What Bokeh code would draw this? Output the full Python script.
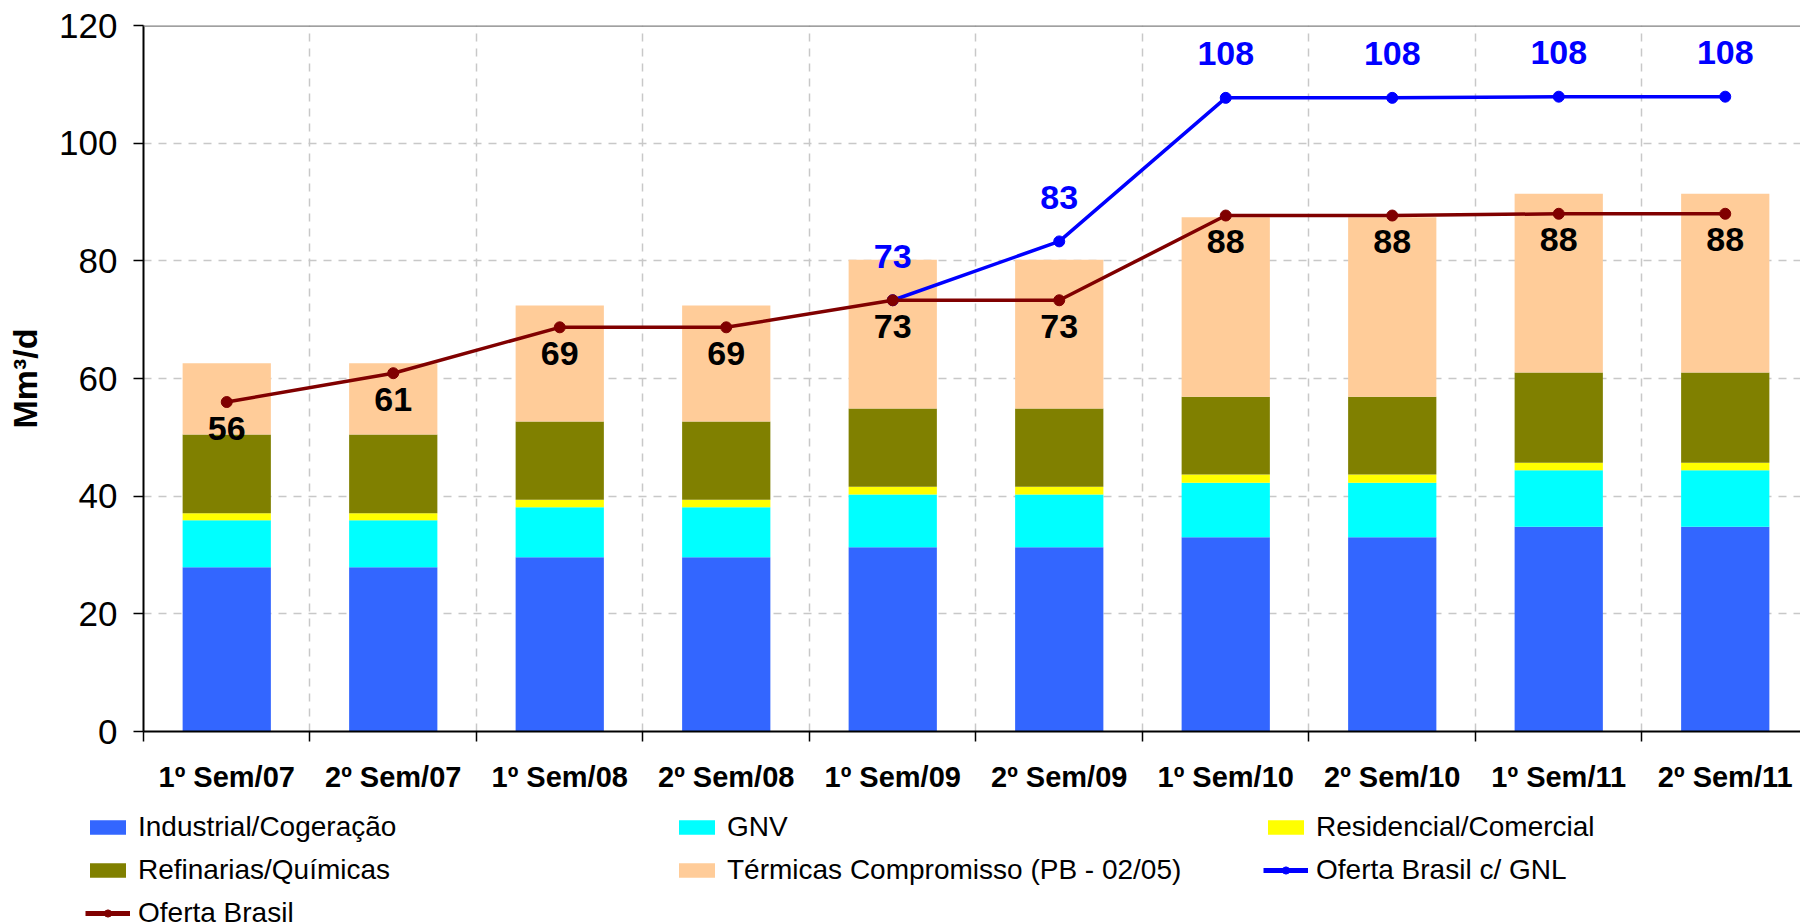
from bokeh.plotting import figure
from bokeh.layouts import column
from bokeh.models import ColumnDataSource, Range1d, FixedTicker, Legend, LegendItem, Span
from bokeh.core.properties import value
from bokeh.embed import file_html
from bokeh.resources import INLINE

# ---------------- data ----------------
periods = ["1º Sem/07", "2º Sem/07", "1º Sem/08", "2º Sem/08", "1º Sem/09",
           "2º Sem/09", "1º Sem/10", "2º Sem/10", "1º Sem/11", "2º Sem/11"]
industrial = [27.9, 27.9, 29.6, 29.6, 31.3, 31.3, 33.0, 33.0, 34.8, 34.8]
gnv = [8.0, 8.0, 8.5, 8.5, 9.0, 9.0, 9.3, 9.3, 9.6, 9.6]
residencial = [1.2, 1.2, 1.3, 1.3, 1.3, 1.3, 1.4, 1.4, 1.3, 1.3]
refinarias = [13.4, 13.4, 13.3, 13.3, 13.3, 13.3, 13.2, 13.2, 15.3, 15.3]
termicas = [12.1, 12.1, 19.7, 19.7, 25.3, 25.3, 30.5, 30.5, 30.4, 30.4]
oferta_brasil = [56.0, 60.9, 68.7, 68.7, 73.3, 73.3, 87.7, 87.7, 88.0, 88.0]
oferta_gnl = [None, None, None, None, 73.3, 83.3, 107.7, 107.7, 107.9, 107.9]
y_ticks = [0, 20, 40, 60, 80, 100, 120]
y_grid = [20, 40, 60, 80, 100]

series_names = ["Industrial/Cogeração", "GNV", "Residencial/Comercial",
                "Refinarias/Químicas", "Térmicas Compromisso (PB - 02/05)"]
line_names = ["Oferta Brasil c/ GNL", "Oferta Brasil"]
colors = ["#3366FF", "#00FFFF", "#FFFF00", "#808000", "#FFCC99"]
line_colors = ["#0000FF", "#800000"]
FONT = "Liberation Sans"

xs = [i + 0.5 for i in range(len(periods))]
n = len(periods)

bar_src = ColumnDataSource(dict(x=xs, s0=industrial, s1=gnv, s2=residencial,
                                s3=refinarias, s4=termicas))

W = 1800
H1 = 808
p = figure(width=W, height=H1, output_backend="svg", toolbar_location=None,
           x_range=Range1d(0, 9.952), y_range=Range1d(0, 120),
           min_border_left=143, min_border_right=0, min_border_top=25,
           min_border_bottom=H1 - 731)
p.outline_line_color = None
p.background_fill_color = "white"
p.border_fill_color = "white"

# grids
p.xgrid.ticker = FixedTicker(ticks=list(range(1, n)))
p.ygrid.ticker = FixedTicker(ticks=y_grid)
for g in (p.xgrid, p.ygrid):
    g.grid_line_color = "#c8c8c8"
    g.grid_line_dash = "8 7"
    g.grid_line_width = 1.5

# top border line
p.add_layout(Span(location=120, dimension="width", line_color="#808080", line_width=2.5))

# stacked bars
bars = p.vbar_stack(["s0", "s1", "s2", "s3", "s4"], x="x", width=0.53,
                    color=colors, line_color=None, source=bar_src)

# lines
gnl_idx = [i for i, v in enumerate(oferta_gnl) if v is not None]
gnl_src = ColumnDataSource(dict(x=[xs[i] for i in gnl_idx],
                                y=[oferta_gnl[i] for i in gnl_idx],
                                t=[str(int(round(oferta_gnl[i]))) for i in gnl_idx]))
ob_src = ColumnDataSource(dict(x=xs, y=oferta_brasil,
                               t=[str(int(round(v))) for v in oferta_brasil]))

p.line("x", "y", source=gnl_src, line_color=line_colors[0], line_width=3.5)
p.scatter("x", "y", source=gnl_src, size=11, color=line_colors[0])
p.line("x", "y", source=ob_src, line_color=line_colors[1], line_width=3.5)
p.scatter("x", "y", source=ob_src, size=11, color=line_colors[1])

# data labels
p.text("x", "y", text="t", source=ob_src, text_font=value(FONT), text_font_style="bold",
       text_font_size="34px", text_color="black", text_align="center",
       text_baseline="middle", y_offset=26)
p.text("x", "y", text="t", source=gnl_src, text_font=value(FONT), text_font_style="bold",
       text_font_size="34px", text_color=line_colors[0], text_align="center",
       text_baseline="middle", y_offset=-44)

# axes
xa = p.xaxis[0]
xa.ticker = FixedTicker(ticks=xs, minor_ticks=list(range(0, n + 1)))
xa.major_label_overrides = {x: lab for x, lab in zip(xs, periods)}
xa.major_tick_out = 0
xa.major_tick_in = 0
xa.minor_tick_out = 10
xa.minor_tick_in = 0
xa.minor_tick_line_color = "black"
xa.minor_tick_line_width = 1.5
xa.axis_line_color = "black"
xa.axis_line_width = 2
xa.major_label_text_font = FONT
xa.major_label_text_font_style = "bold"
xa.major_label_text_font_size = "29px"
xa.major_label_text_color = "black"
xa.major_label_standoff = 19

ya = p.yaxis[0]
ya.ticker = FixedTicker(ticks=y_ticks)
ya.minor_tick_line_color = None
ya.major_tick_out = 10
ya.major_tick_in = 0
ya.major_tick_line_color = "black"
ya.major_tick_line_width = 1.5
ya.axis_line_color = "black"
ya.axis_line_width = 2
ya.major_label_text_font = FONT
ya.major_label_text_font_size = "35px"
ya.major_label_text_color = "black"
ya.major_label_standoff = 16
ya.axis_label = "Mm³/d"
ya.axis_label_text_font = FONT
ya.axis_label_text_font_style = "bold"
ya.axis_label_text_font_size = "34px"
ya.axis_label_text_color = "black"
ya.axis_label_standoff = 12

# ---------------- legend (separate strip below) ----------------
H2 = 923 - H1
lf = figure(width=W, height=H2, output_backend="svg", toolbar_location=None,
            x_range=Range1d(0, 1), y_range=Range1d(0, 1),
            x_axis_type=None, y_axis_type=None, min_border=0)
lf.outline_line_color = None
lf.background_fill_color = "white"
lf.border_fill_color = "white"
aligned_off = True
try:
    lf.frame_align = False
    p.frame_align = False
except Exception:
    aligned_off = False

# placeholder renderers (outside the visible range) that only feed the legend
items = []
for name, c in zip(series_names, colors):
    r = lf.vbar(x=[-5], top=[-5], bottom=[-6], width=0.5, fill_color=c, line_color=None)
    items.append(LegendItem(label=name, renderers=[r]))
for name, c in zip(line_names, line_colors):
    rl = lf.line(x=[-5, -4], y=[-5, -5], line_color=c, line_width=5)
    rm = lf.scatter(x=[-5], y=[-5], size=11, color=c)
    items.append(LegendItem(label=name, renderers=[rl, rm]))

legend_x = 85 if aligned_off else 85 - 143
legend = Legend(items=items, location=(legend_x, -6), orientation="horizontal", ncols=3,
                glyph_width=45, glyph_height=18, label_standoff=8, label_width=525,
                spacing=11, padding=0, margin=0, border_line_color=None,
                background_fill_alpha=0, label_text_font=FONT,
                label_text_font_size="28px", label_text_color="black")
lf.add_layout(legend)

open("out.html", "w").write(file_html(column(p, lf, spacing=0), INLINE))
